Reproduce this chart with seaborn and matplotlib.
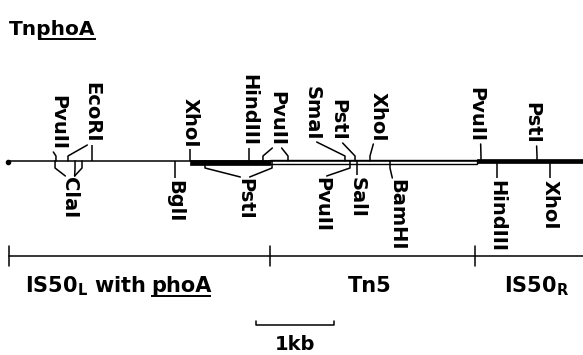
import matplotlib
matplotlib.use("Agg")
import matplotlib.pyplot as plt
import seaborn as sns
from matplotlib.patches import Rectangle

# ---------------- data (positions along the map, in kb) ----------------
title_name = "TnphoA"
above_names = ["PvuII", "EcoRI", "XhoI", "HindIII", "PvuII", "SmaI", "PstI", "XhoI", "PvuII", "PstI"]
above_sites = [[0.606], [0.761, 1.071], [2.335], [3.097], [3.277, 3.600],
               [4.335], [4.465], [4.658], [6.090], [6.813]]
below_names = ["ClaI", "BglI", "PstI", "PvuII", "SalI", "BamHI", "HindIII", "XhoI"]
below_sites = [[0.594, 0.852, 0.942], [2.142], [2.529, 3.394], [4.400],
               [4.490], [4.916], [6.297], [6.981]]
segment_ticks_kb = [0.0, 3.37, 6.01]
phoA_start_kb = 2.335
neo_box_kb = [3.37, 6.04]
scale_bar_kb = 1.0

# ---------------- layout (pixels / kb offsets) ----------------
W, H = 583, 355
PX_PER_KB = 77.5
X0 = 9
XMIN = -X0 / PX_PER_KB
XMAX = (W - X0) / PX_PER_KB
LINE_Y = 161
above_label_x = [0.632, 1.071, 2.335, 3.097, 3.458, 3.910, 4.245, 4.761, 6.026, 6.748]
above_label_bottom = [150, 143, 147, 146, 146, 140, 141, 142, 142, 144]
below_label_x = [0.787, 2.142, 3.045, 4.039, 4.490, 5.006, 6.297, 6.981]
below_label_top = [177, 180, 178, 177, 177, 179, 180, 180]
FS = 14
SEG_FS = 15

sns.set_theme(style="white")
plt.rcParams['font.family'] = ['DejaVu Sans']
plt.rcParams['mathtext.fontset'] = 'dejavusans'
plt.rcParams['text.color'] = 'black'

fig = plt.figure(figsize=(W / 100, H / 100), dpi=100)
ax = fig.add_axes([0, 0, 1, 1])
ax.set_xlim(XMIN, XMAX)
ax.set_ylim(H, 0)
ax.axis('off')

LW = 1.1
# backbone
sns.lineplot(x=[-0.01, XMAX], y=[LINE_Y, LINE_Y], color='black', linewidth=LW, ax=ax,
             estimator=None, sort=False)
ax.plot([-0.01], [LINE_Y + 1], marker='o', ms=3, color='black')
# phoA solid, neo open box, IS50R solid
ax.add_patch(Rectangle((phoA_start_kb, LINE_Y - 1), neo_box_kb[0] - phoA_start_kb, 4.5,
                       facecolor='black', edgecolor='black', lw=0.5))
ax.add_patch(Rectangle((neo_box_kb[0], LINE_Y - 1), neo_box_kb[1] - neo_box_kb[0], 4,
                       facecolor='white', edgecolor='black', lw=1.0))
ax.add_patch(Rectangle((neo_box_kb[1], LINE_Y - 2), XMAX - neo_box_kb[1] + 0.1, 4,
                       facecolor='black', edgecolor='black', lw=0.5))

# above sites
for name, sites, lx, lb in zip(above_names, above_sites, above_label_x, above_label_bottom):
    ax.text(lx, lb, name, rotation=270, ha='center', va='bottom', fontsize=FS,
            fontweight='bold', color='black')
    for s in sites:
        if abs(s - lx) < 0.02:
            ax.plot([s, s], [lb + 2, LINE_Y], color='black', lw=LW, solid_capstyle='butt')
        else:
            off = 0.06 if s > lx else -0.06
            ax.plot([lx + off, s, s], [lb + 2, LINE_Y - 5, LINE_Y], color='black', lw=LW)

# below sites
for name, sites, lx, lt in zip(below_names, below_sites, below_label_x, below_label_top):
    ax.text(lx, lt, name, rotation=270, ha='center', va='top', fontsize=FS,
            fontweight='bold', color='black')
    for s in sites:
        if abs(s - lx) < 0.02:
            ax.plot([s, s], [LINE_Y, lt - 2], color='black', lw=LW, solid_capstyle='butt')
        else:
            off = 0.06 if s > lx else -0.06
            ax.plot([s, s, lx + off], [LINE_Y, LINE_Y + 7, lt - 1], color='black', lw=LW)

# segment scale line
SEG_Y = 256
sns.lineplot(x=[0.0, XMAX], y=[SEG_Y, SEG_Y], color='black', linewidth=LW, ax=ax,
             estimator=None, sort=False)
for t in segment_ticks_kb:
    ax.plot([t, t], [SEG_Y - 10, SEG_Y + 10], color='black', lw=LW)

fig.canvas.draw()
renderer = fig.canvas.get_renderer()
inv = ax.transData.inverted()


def bbox_kb(t):
    bb = t.get_window_extent(renderer)
    return inv.transform((bb.x0, 0))[0], inv.transform((bb.x1, 0))[0]


def underlined(x, y, prefix, word, fs, uy, gap_px):
    tp = ax.text(x, y, prefix, fontsize=fs, fontweight='bold', ha='left', va='baseline')
    _, xr = bbox_kb(tp)
    tw = ax.text(xr + gap_px / PX_PER_KB, y, word, fontsize=fs, fontweight='bold',
                 ha='left', va='baseline')
    a, b = bbox_kb(tw)
    ax.plot([a, b], [uy, uy], color='black', lw=1.4, solid_capstyle='butt')


# title (single text, underline under "phoA")
tx = (9 - X0) / PX_PER_KB
tt = ax.text(tx, 35, title_name, fontsize=14.5, fontweight='bold', ha='left', va='baseline')
tmp = ax.text(tx, 35, title_name[:2], fontsize=14.5, fontweight='bold', ha='left', va='baseline')
_, tn_end = bbox_kb(tmp)
tmp.remove()
_, t_end = bbox_kb(tt)
ax.plot([tn_end + 1 / PX_PER_KB, t_end], [38.5, 38.5], color='black', lw=1.4,
        solid_capstyle='butt')

# segment labels
underlined((25 - X0) / PX_PER_KB, 292, r"IS50$_\mathbf{L}$ with", "phoA", SEG_FS, 295.5, 5)
ax.text((370 - X0) / PX_PER_KB, 292, "Tn5", fontsize=SEG_FS, fontweight='bold',
        ha='center', va='baseline')
ax.text((504 - X0) / PX_PER_KB, 292, r"IS50$_\mathbf{R}$", fontsize=SEG_FS, fontweight='bold',
        ha='left', va='baseline')

# 1 kb scale bar
sb0 = (256 - X0) / PX_PER_KB
ax.plot([sb0, sb0, sb0 + scale_bar_kb, sb0 + scale_bar_kb], [321, 325, 325, 321],
        color='black', lw=LW)
ax.text(sb0 + scale_bar_kb / 2, 350, "1kb", fontsize=14, fontweight='bold',
        ha='center', va='baseline')

fig.savefig("out.png", dpi=100)
